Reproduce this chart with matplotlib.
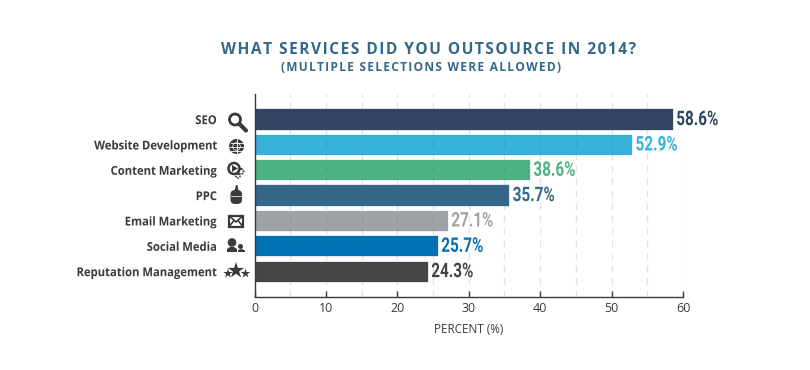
import matplotlib
matplotlib.use('Agg')
import matplotlib.pyplot as plt
from matplotlib.patches import Circle, Rectangle, Polygon, FancyBboxPatch
from matplotlib.patheffects import AbstractPathEffect
from matplotlib.transforms import Affine2D

services = ['SEO', 'Website Development', 'Content Marketing', 'PPC',
            'Email Marketing', 'Social Media', 'Reputation Management']
percent = [58.6, 52.9, 38.6, 35.7, 27.1, 25.7, 24.3]
colors = ['#2f4560', '#36b1da', '#4bb387', '#33688a', '#9fa2a7', '#0071b3', '#464648']
xticks = [0, 10, 20, 30, 40, 50, 60]
grid_lines = [5, 10, 15, 20, 25, 30, 35, 40, 45, 50, 55, 60]

W, H = 810, 370
DARK = '#3a3a3c'
TEAL = '#33688a'


class Squeeze(AbstractPathEffect):
    # narrows the glyphs, there is no condensed font installed
    def __init__(self, k, right=False):
        super().__init__()
        self.k = k
        self.right = right

    def draw_path(self, renderer, gc, tpath, affine, rgbFace=None):
        x0 = tpath.get_extents().x1 if self.right else 0
        squeeze = Affine2D().translate(-x0, 0).scale(self.k, 1).translate(x0, 0)
        renderer.draw_path(gc, tpath, squeeze + affine, rgbFace)


def spaced(s):
    # no letter spacing in matplotlib, hair spaces get close
    return '\u200a'.join(s)


fig = plt.figure(figsize=(W / 100, H / 100), dpi=100)
ax = fig.add_axes([254.5 / W, 1 - 296.5 / H, 428.5 / W, 203 / H])

ypos = range(len(services))
ax.barh(ypos, percent, height=0.84, color=colors, edgecolor='white', linewidth=0.5, zorder=2)
ax.set_xlim(0, 60)
ax.set_ylim(7.0, -1.01)

for x in grid_lines:
    ax.axvline(x, color='#555555', alpha=0.16, lw=1, dashes=(5, 4), zorder=3)

for i, v in enumerate(percent):
    t = ax.text(v + 0.45, i + 0.02, f'{v}%', color=colors[i], va='center', ha='left',
                fontsize=14.5, fontweight='bold', family='Roboto')
    t.set_path_effects([Squeeze(0.76)])

ax.set_yticks(list(ypos))
ax.set_yticklabels(services, fontsize=8.8, fontweight='bold', color=DARK, family='Open Sans')
for lab in ax.get_yticklabels():
    lab.set_path_effects([Squeeze(0.92, right=True)])
ax.tick_params(axis='y', length=0, pad=27)
ax.set_xticks(xticks)
ax.tick_params(axis='x', direction='in', length=4, width=1, color=DARK, pad=4, labelsize=9, labelcolor=DARK)
for lab in ax.get_xticklabels():
    lab.set_family('Open Sans')
ax.set_xlabel('PERCENT (%)', fontsize=8.4, color=DARK, family='Open Sans', labelpad=6)

for side in ['top', 'right']:
    ax.spines[side].set_visible(False)
for side in ['left', 'bottom']:
    ax.spines[side].set_color(DARK)
    ax.spines[side].set_linewidth(1)

fig.text(429 / W, 1 - 49.5 / H, spaced('WHAT SERVICES DID YOU OUTSOURCE IN 2014?'), ha='center', va='center',
         fontsize=11.2, fontweight='bold', color=TEAL, family=['Open Sans', 'DejaVu Sans'])
fig.text(421 / W, 1 - 67.5 / H, spaced('(MULTIPLE SELECTIONS WERE ALLOWED)'), ha='center', va='center',
         fontsize=8.6, fontweight='bold', color=TEAL, family=['Open Sans', 'DejaVu Sans'])

# icons, drawn in pixel coordinates on a full figure overlay
ov = fig.add_axes([0, 0, 1, 1], facecolor='none')
ov.set_xlim(0, W)
ov.set_ylim(H, 0)
ov.axis('off')

# magnifier
ov.add_patch(Circle((235, 119.5), 5.5, fc='none', ec=DARK, lw=2))
ov.plot([239.5, 246], [124, 130.5], color=DARK, lw=3, solid_capstyle='round')
# globe
ov.add_patch(Circle((236.5, 146.5), 7.5, fc=DARK, ec='none'))
ov.plot([229, 244], [146.5, 146.5], color='white', lw=0.6)
ov.plot([230.5, 242.5], [142.5, 142.5], color='white', lw=0.6)
ov.plot([230.5, 242.5], [150.5, 150.5], color='white', lw=0.6)
ov.plot([236.5, 236.5], [139, 154], color='white', lw=0.6)
ov.add_patch(Circle((236.5, 146.5), 3.8, fc='none', ec='white', lw=0.5))
# play button with gears
ov.add_patch(Circle((234, 168.5), 5.5, fc='none', ec=DARK, lw=1.8))
ov.add_patch(Polygon([[232, 165], [232, 172], [238, 168.5]], fc=DARK, ec='none'))
ov.add_patch(Circle((241, 171.5), 2.6, fc='none', ec=DARK, lw=1.3, ls=(0, (1, 0.6))))
ov.add_patch(Circle((238, 176), 2.0, fc='none', ec=DARK, lw=1.2, ls=(0, (1, 0.6))))
# mouse
ov.add_patch(FancyBboxPatch((230.5, 190), 11.5, 14, boxstyle='round,pad=0,rounding_size=4.5', fc=DARK, ec='none'))
ov.add_patch(Polygon([[234.5, 191], [236, 185], [237.5, 185], [238.5, 191]], fc=DARK, ec='none'))
ov.plot([230.5, 242], [195.5, 195.5], color='white', lw=0.5)
# envelope
ov.add_patch(Rectangle((229, 215.5), 14, 11, fc='white', ec=DARK, lw=1.6))
ov.plot([229.5, 236, 242.5], [216, 222, 216], color=DARK, lw=1.2)
ov.plot([229.5, 234], [226, 220.5], color=DARK, lw=1.2)
ov.plot([242.5, 238], [226, 220.5], color=DARK, lw=1.2)
# people
ov.add_patch(Circle((232, 242.5), 4.3, fc=DARK, ec='none'))
ov.add_patch(Polygon([[227, 252], [227, 249], [230, 247], [234, 247], [237, 249], [237, 252]], fc=DARK, ec='none'))
ov.add_patch(Circle((240.5, 246.5), 2.5, fc=DARK, ec='none'))
ov.add_patch(Polygon([[238, 252], [238, 250], [242, 249], [245, 250.5], [245, 252]], fc=DARK, ec='none'))
# stars
ov.scatter([228, 236, 245.5], [273.5, 270.5, 273.5], s=[50, 150, 50], marker='*', color=DARK, linewidths=0)

fig.savefig('out.png', dpi=100)
